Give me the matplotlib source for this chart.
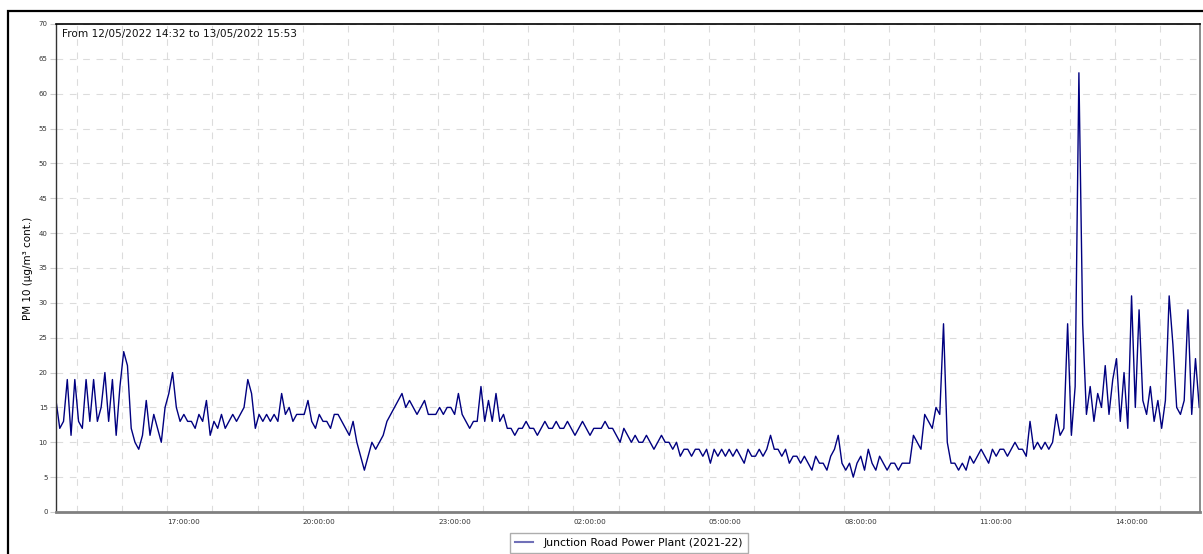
import pandas as pd
import matplotlib.pyplot as plt
import matplotlib.dates as mdates
from matplotlib.lines import Line2D
from matplotlib.patches import Rectangle

# PM10 readings, 5 minute steps from 12/05/2022 14:32 (one row per hour)
pm10 = [
    16, 12, 13, 19, 11, 19, 13, 12, 19, 13, 19, 13,
    15, 20, 13, 19, 11, 18, 23, 21, 12, 10, 9, 11,
    16, 11, 14, 12, 10, 15, 17, 20, 15, 13, 14, 13,
    13, 12, 14, 13, 16, 11, 13, 12, 14, 12, 13, 14,
    13, 14, 15, 19, 17, 12, 14, 13, 14, 13, 14, 13,
    17, 14, 15, 13, 14, 14, 14, 16, 13, 12, 14, 13,
    13, 12, 14, 14, 13, 12, 11, 13, 10, 8, 6, 8,
    10, 9, 10, 11, 13, 14, 15, 16, 17, 15, 16, 15,
    14, 15, 16, 14, 14, 14, 15, 14, 15, 15, 14, 17,
    14, 13, 12, 13, 13, 18, 13, 16, 13, 17, 13, 14,
    12, 12, 11, 12, 12, 13, 12, 12, 11, 12, 13, 12,
    12, 13, 12, 12, 13, 12, 11, 12, 13, 12, 11, 12,
    12, 12, 13, 12, 12, 11, 10, 12, 11, 10, 11, 10,
    10, 11, 10, 9, 10, 11, 10, 10, 9, 10, 8, 9,
    9, 8, 9, 9, 8, 9, 7, 9, 8, 9, 8, 9,
    8, 9, 8, 7, 9, 8, 8, 9, 8, 9, 11, 9,
    9, 8, 9, 7, 8, 8, 7, 8, 7, 6, 8, 7,
    7, 6, 8, 9, 11, 7, 6, 7, 5, 7, 8, 6,
    9, 7, 6, 8, 7, 6, 7, 7, 6, 7, 7, 7,
    11, 10, 9, 14, 13, 12, 15, 14, 27, 10, 7, 7,
    6, 7, 6, 8, 7, 8, 9, 8, 7, 9, 8, 9,
    9, 8, 9, 10, 9, 9, 8, 13, 9, 10, 9, 10,
    9, 10, 14, 11, 12, 27, 11, 18, 63, 27, 14, 18,
    13, 17, 15, 21, 14, 19, 22, 13, 20, 12, 31, 15,
    29, 16, 14, 18, 13, 16, 12, 16, 31, 24, 15, 14,
    16, 29, 14, 22, 15,
]
times = pd.date_range('2022-05-12 14:32', periods=len(pm10), freq='5min')

station = 'Junction Road Power Plant (2021-22)'
period_text = 'From 12/05/2022 14:32 to 13/05/2022 15:53'

fig = plt.figure(figsize=(12.03, 5.54), dpi=100)
ax = fig.add_axes([56 / 1203, 42 / 554, 1144 / 1203, 488 / 554])

ax.plot(times, pm10, color='#000080', lw=1.0)

ax.set_xlim(pd.Timestamp('2022-05-12 14:32'), pd.Timestamp('2022-05-13 15:53'))
ax.set_ylim(0, 70)
ax.set_yticks(range(0, 71, 5))

ax.xaxis.set_major_locator(mdates.HourLocator(byhour=[2, 5, 8, 11, 14, 17, 20, 23]))
ax.xaxis.set_major_formatter(mdates.DateFormatter('%H:%M:%S'))
ax.xaxis.set_minor_locator(mdates.HourLocator())

ax.grid(True, which='both', axis='x', color='#dcdcdc', lw=0.8, dashes=(6, 6))
ax.grid(True, which='major', axis='y', color='#dcdcdc', lw=0.8, dashes=(6, 6))
ax.set_axisbelow(True)

ax.tick_params(axis='x', which='both', length=0, labelsize=5.2, labelcolor='#333333', pad=5)
for lbl in ax.get_xticklabels():
    lbl.set_horizontalalignment('left')
ax.tick_params(axis='y', length=4, color='#cccccc', labelsize=5, labelcolor='#333333', pad=2)

for side, c, w in [('left', '#333333', 1.0), ('top', '#000000', 1.2),
                   ('right', '#777777', 1.2), ('bottom', '#808080', 2.0)]:
    ax.spines[side].set_color(c)
    ax.spines[side].set_linewidth(w)

ax.set_ylabel('PM 10 (µg/m³ cont.)', fontsize=7.5, labelpad=4)
ax.text(0.005, 0.99, period_text, transform=ax.transAxes, fontsize=7.6,
        va='top', ha='left', color='#111111')

handle = Line2D([], [], color='#7070b8', lw=1.5)
fig.legend([handle], [station], loc='upper center', bbox_to_anchor=(629 / 1203, 21 / 554),
           borderaxespad=0, fontsize=7.8, frameon=True, fancybox=False, edgecolor='#999999',
           borderpad=0.45, handlelength=1.6, handletextpad=1.0)

# outer frame of the export
fig.add_artist(Rectangle((8 / 1203, -0.1), 1.2, 1.1 - 11 / 554,
                         transform=fig.transFigure, fill=False,
                         edgecolor='black', lw=1.6))

fig.savefig('out.png', dpi=100)
